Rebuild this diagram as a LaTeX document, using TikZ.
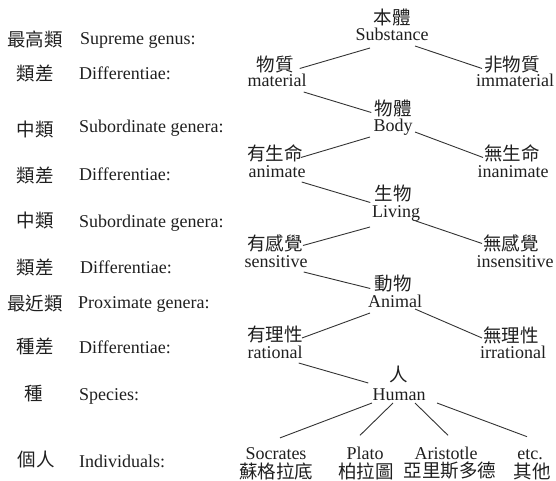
\documentclass[tikz,border=0pt]{standalone}
\usepackage{fontspec}
\setmainfont{Liberation Serif}
\newfontfamily\cjk{Noto Sans CJK TC}
\usetikzlibrary{positioning,calc}

\begin{document}
\begin{tikzpicture}[
  x=1pt, y=-1pt,
  en/.style={anchor=base, inner sep=0pt, text=black!88, font=\fontsize{18}{20}\selectfont},
  zh/.style={inner sep=0pt, text=black!88, font=\cjk\fontsize{18.5}{20}\selectfont},
  branch/.style={draw=black!80, line width=0.9pt}
]
\useasboundingbox (0,0) rectangle (556,481);

% 左側の見出し
\node[zh] (rowC1) at (35,39.5) {最高類};
\node[en, anchor=base west] (rowE1) at (80,45) {Supreme genus:};
\node[zh] (rowC2) at (35,73.5) {類差};
\node[en, anchor=base west] (rowE2) at (79,80) {Differentiae:};
\node[zh] (rowC3) at (35,129.5) {中類};
\node[en, anchor=base west] (rowE3) at (79,133) {Subordinate genera:};
\node[zh] (rowC4) at (35,175) {類差};
\node[en, anchor=base west] (rowE4) at (79,180) {Differentiae:};
\node[zh] (rowC5) at (35,220) {中類};
\node[en, anchor=base west] (rowE5) at (79,227) {Subordinate genera:};
\node[zh] (rowC6) at (35,267) {類差};
\node[en, anchor=base west] (rowE6) at (80,273) {Differentiae:};
\node[zh] (rowC7) at (35,303) {最近類};
\node[en, anchor=base west] (rowE7) at (78,308) {Proximate genera:};
\node[zh] (rowC8) at (35,346) {種差};
\node[en, anchor=base west] (rowE8) at (79,353) {Differentiae:};
\node[zh] (rowC9) at (34,394) {種};
\node[en, anchor=base west] (rowE9) at (79,400) {Species:};
\node[zh] (rowC10) at (36,460) {個人};
\node[en, anchor=base west] (rowE10) at (79,467) {Individuals:};

% 樹
\node[zh] (subC) at (392,17.5) {本體};
\node[en] (subE) at (392,41) {Substance};
\node[zh] (matC) at (275,64.5) {物質};
\node[en] (matE) at (277,87) {material};
\node[zh] (immC) at (512,64.5) {非物質};
\node[en] (immE) at (515,87) {immaterial};
\node[zh] (bodC) at (393,108.5) {物體};
\node[en] (bodE) at (393,132) {Body};
\node[zh] (aniC) at (275,153.5) {有生命};
\node[en] (aniE) at (277,177) {animate};
\node[zh] (inaC) at (512,153.5) {無生命};
\node[en] (inaE) at (513,177) {inanimate};
\node[zh] (livC) at (393,193.5) {生物};
\node[en] (livE) at (396,217) {Living};
\node[zh] (senC) at (275,243.5) {有感覺};
\node[en] (senE) at (276,267) {sensitive};
\node[zh] (insC) at (511,243.5) {無感覺};
\node[en] (insE) at (515,267) {insensitive};
\node[zh] (anmC) at (393,283.5) {動物};
\node[en] (anmE) at (395,307) {Animal};
\node[zh] (ratC) at (275,335) {有理性};
\node[en] (ratE) at (275,358) {rational};
\node[zh] (irrC) at (511,335) {無理性};
\node[en] (irrE) at (513,358) {irrational};
\node[zh] (humC) at (399,374) {人};
\node[en] (humE) at (399,400) {Human};

% 個人
\node[en] (socE) at (276,459) {Socrates};
\node[zh] (socC) at (276,471) {蘇格拉底};
\node[en] (plaE) at (365,459) {Plato};
\node[zh] (plaC) at (366,471) {柏拉圖};
\node[en] (ariE) at (446,459) {Aristotle};
\node[zh] (ariC) at (450,471) {亞里斯多德};
\node[en] (etcE) at (530,459) {etc.};
\node[zh] (etcC) at (532,471) {其他};

% 枝
\draw[branch] ($(subE.base)+(-22,7)$) -- ($(matC.east)+(6,4)$);
\draw[branch] ($(subE.base)+(23,5)$) -- ($(immC.west)+(-2,4)$);
\draw[branch] ($(matE.base east)+(-3,5)$) -- ($(bodC.west)+(-3,4)$);
\draw[branch] ($(bodE.base)+(-23,5)$) -- ($(aniC.east)+(-2,4)$);
\draw[branch] ($(bodE.base)+(22,0)$) -- ($(inaC.west)+(-1,4)$);
\draw[branch] ($(aniE.base east)+(-4,5)$) -- ($(livC.west)+(-4,9)$);
\draw[branch] ($(livE.base)+(-26,10)$) -- ($(senC.east)+(0,2)$);
\draw[branch] ($(livE.base)+(17,3)$) -- ($(insC.west)+(-1,0)$);
\draw[branch] ($(senE.base east)+(-4,5)$) -- ($(anmC.west)+(-4,5)$);
\draw[branch] ($(anmE.base)+(-25,6)$) -- ($(ratC.east)+(-1,3)$);
\draw[branch] ($(anmE.base)+(20,2)$) -- ($(irrC.west)+(-1,3)$);
\draw[branch] ($(ratE.base east)+(-4,5)$) -- ($(humE.north west)+(-4,-5)$);
\draw[branch] ($(humE.base)+(-27,3)$) -- ($(socE.north)+(4,-9)$);
\draw[branch] ($(humE.base)+(-6,3)$) -- ($(plaE.north)+(-5,-11)$);
\draw[branch] ($(humE.base)+(16,3)$) -- ($(ariE.north)+(2,-11)$);
\draw[branch] ($(humE.base)+(38,3)$) -- ($(etcE.north)+(-3,-12)$);

\end{tikzpicture}
\end{document}
